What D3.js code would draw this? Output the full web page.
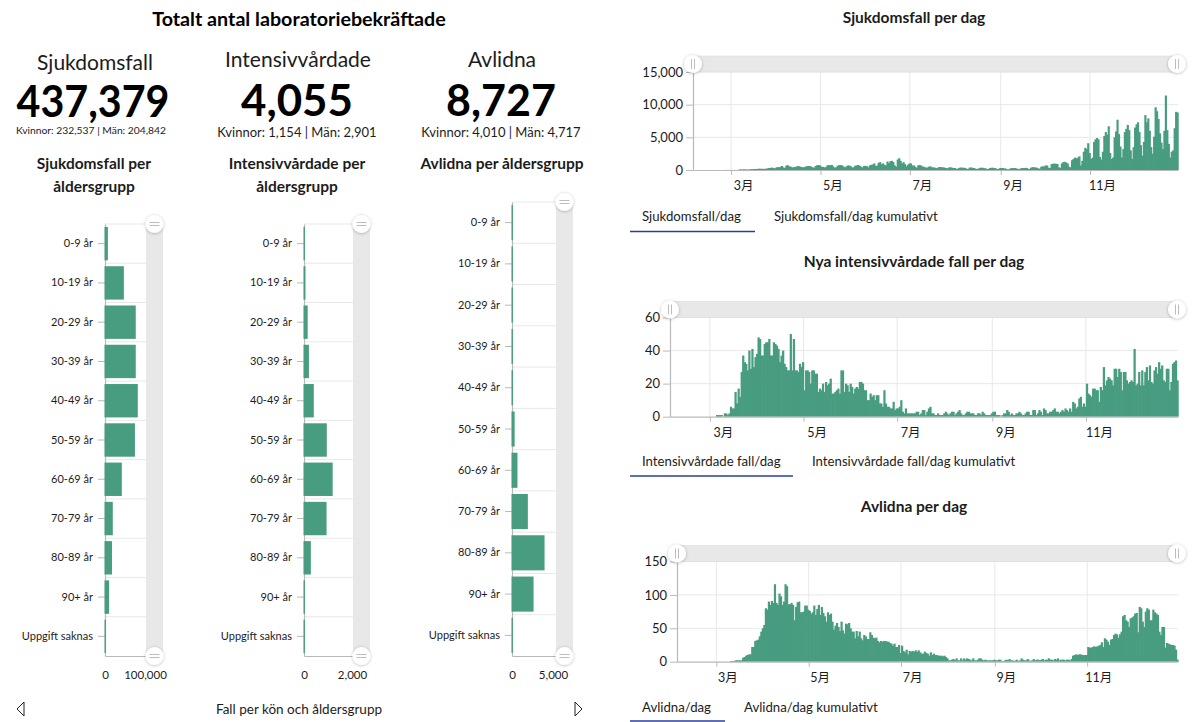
<!DOCTYPE html>
<html><head><meta charset="utf-8">
<script src="https://cdnjs.cloudflare.com/ajax/libs/d3/7.8.5/d3.min.js"></script>
<style>
html,body{margin:0;padding:0;background:#fff}
svg{display:block}
text{font-family:Lato,"Noto Sans CJK SC",sans-serif;fill:#1c1c1c}
</style></head><body><svg id="c" width="1200" height="722"></svg>
<script>
const ageGroups=["0-9 år","10-19 år","20-29 år","30-39 år","40-49 år","50-59 år","60-69 år","70-79 år","80-89 år","90+ år","Uppgift saknas"];
const casesByAge=[7000,46000,75000,75000,80000,73000,41000,19000,17000,10000,600];
const icuByAge=[30,60,150,200,400,930,1170,920,280,25,5];
const deathsByAge=[5,10,20,40,110,300,620,1800,3700,2450,10];
const monthStarts=["2020-02-04","2020-03-01","2020-04-01","2020-05-01","2020-06-01","2020-07-01","2020-08-01","2020-09-01","2020-10-01","2020-11-01","2020-12-01"];
const tickMonths=["2020-03-01","2020-05-01","2020-07-01","2020-09-01","2020-11-01"];
const tickLabels=["3月","5月","7月","9月","11月"];
const casesDaily=[
[1,0,0,0,0,0,0,0,0,0,0,0,0,0,0,0,0,0,0,0,1,2,7,7,5,10],
[4,1,16,5,20,60,100,50,110,80,70,75,85,120,130,150,140,160,190,200,170,180,170,190,240,300,320,360,330,240,350],
[450,400,480,620,400,320,680,720,560,500,400,420,480,530,600,560,450,430,410,500,580,620,610,510,400,350,620,720,760,700],
[500,480,400,440,700,760,720,780,560,360,410,640,740,760,700,540,400,560,690,680,560,380,420,640,700,760,660,520,400,600,640],
[580,400,700,800,840,1000,620,680,1100,1200,900,1000,800,700,1300,1050,1350,1400,1200,700,500,1600,1800,1400,1000,1200,900,550,800,1000],
[1000,700,700,500,350,700,760,680,540,480,400,320,500,540,500,360,400,300,280,440,460,420,400,360,300,250,380,420,350,300,300],
[200,180,330,380,350,340,320,200,150,360,380,340,300,220,150,200,320,360,330,280,250,150,170,300,350,340,300,240,150,180,300],
[320,280,250,180,120,110,260,280,300,300,240,170,130,250,290,300,320,320,190,150,350,430,420,380,350,230,200,500,560,540],
[700,680,350,300,900,960,980,950,920,400,330,1000,1200,1250,1150,1000,500,420,1500,1700,1900,1800,1900,2100,700,1400,2800,3400,3200,4100,2600],
[1700,1900,4300,4700,4900,4700,2000,1600,2800,5200,5800,5400,6700,2600,1700,1900,5000,5900,7700,5500,3600,1900,3200,5800,6300,6900,6100,3000,1700,3500],
[6500,7000,7300,5800,3800,2200,4300,8400,7300,7900,6000,3500,2500,5100,9600,9000,7800,5600,4200,3200,6000,11400,6100,4000,1900,2800,3000,6400,8900,8800]];
const icuDaily=[
[0,0,0,0,0,0,0,0,0,0,0,0,0,0,0,0,0,0,0,0,0,0,0,0,0,0],
[0,0,0,0,1,1,1,1,0,2,2,1,2,6,5,5,15,8,17,12,27,37,33,32,28,40,29,41,30,36,38],
[48,47,37,37,44,45,45,47,37,37,45,44,43,41,33,37,40,32,30,28,28,50,28,47,28,28,27,32,30,33],
[16,28,28,27,20,28,28,26,26,15,17,16,20,15,21,19,20,23,14,14,15,16,17,14,28,28,15,20,19,15,20],
[18,14,17,18,17,21,21,20,16,16,10,10,14,12,13,10,13,13,8,8,6,16,8,6,6,5,5,9,4,5],
[5,6,10,3,2,5,2,2,2,2,2,2,3,3,1,2,4,4,1,3,5,6,2,2,1,1,2,1,1,1,2],
[3,2,1,2,3,3,1,2,3,4,2,1,1,2,3,3,2,2,2,1,1,2,2,1,3,2,1,1,1,1,2],
[3,3,1,1,1,0,1,2,2,4,3,1,2,1,1,2,2,3,2,1,1,2,3,3,1,1,4,4,1,2],
[4,3,1,5,4,2,2,3,3,4,5,3,3,2,3,4,3,5,4,3,5,3,9,8,5,6,11,12,6,8,6],
[20,14,13,12,17,17,16,16,9,18,16,30,19,22,24,23,22,19,29,29,24,29,27,16,27,27,22,20,21,22],
[21,41,19,20,27,19,28,19,27,30,22,31,21,20,28,30,26,33,29,31,22,21,29,29,16,21,32,33,34,22]];
const deathsDaily=[
[0,0,0,0,0,0,0,0,0,0,0,0,0,0,0,0,0,0,0,0,0,0,0,0,0,0],
[0,0,0,0,0,0,0,0,0,1,1,1,2,2,2,2,2,6,7,9,10,11,11,22,22,31,32,33,38,45,50],
[55,80,78,90,85,91,88,116,88,85,102,98,85,90,116,113,86,86,88,85,62,82,89,90,74,74,75,84,84,78],
[76,72,74,84,70,79,85,70,82,73,68,60,74,70,72,60,48,54,58,52,46,60,47,42,57,56,58,50,45,45,35],
[46,38,45,35,32,40,38,34,34,44,40,36,35,36,31,29,31,30,31,31,30,30,28,27,24,27,22,22,25,13],
[24,16,14,18,11,16,15,16,15,17,15,17,14,12,12,15,13,12,9,14,10,12,10,10,9,9,9,8,9,7,5],
[2,2,3,4,2,5,2,2,5,2,5,3,5,4,3,2,5,2,2,3,5,5,3,2,3,2,2,2,2,2,3],
[2,2,3,3,1,1,2,3,2,4,2,2,1,2,3,1,2,5,3,2,2,4,2,1,2,4,2,3,3,2],
[3,4,2,3,3,5,3,3,2,4,3,5,2,3,3,3,2,3,3,2,4,9,10,11,10,11,11,10,10,10,10],
[22,21,21,22,23,22,23,24,25,29,22,35,33,30,25,33,34,40,42,41,36,41,45,68,70,62,60,52,65,66],
[68,72,73,44,82,80,60,52,75,80,78,62,62,78,74,72,70,45,40,52,52,21,28,27,26,25,25,24,18,3]];

const GREEN="#489c80",AXIS="#b9b9b9",GRID="#e8e8e8",TRACK="#e8e8e8";
const svg=d3.select("#c");
const defs=svg.append("defs");
const f=defs.append("filter").attr("id","sh").attr("x","-50%").attr("y","-50%").attr("width","200%").attr("height","200%");
f.append("feDropShadow").attr("dx",0).attr("dy",0.5).attr("stdDeviation",1.4).attr("flood-color","#000").attr("flood-opacity",.3);

function T(x,y,s,size,weight,anchor,len){
  const t=svg.append("text").attr("x",x).attr("y",y).text(s).attr("font-size",size).attr("font-weight",weight||400).attr("text-anchor",anchor||"middle");
  if(len) t.attr("textLength",len).attr("lengthAdjust","spacingAndGlyphs");
  return t;
}
function handle(cx,cy,vertical){
  const g=svg.append("g");
  g.append("circle").attr("cx",cx).attr("cy",cy).attr("r",9).attr("fill","#fff").attr("filter","url(#sh)");
  for(const o of [-1.5,1.5]){
    const a=vertical?{x1:cx-o,x2:cx-o,y1:cy-5,y2:cy+5}:{x1:cx-5,x2:cx+5,y1:cy+o,y2:cy+o};
    g.append("line").attr("x1",a.x1).attr("x2",a.x2).attr("y1",a.y1).attr("y2",a.y2).attr("stroke","#bdbdbd").attr("stroke-width",1);
  }
}
const parse=d3.utcParse("%Y-%m-%d");
function daily(nested){
  return d3.merge(nested.map((m,i)=>{
    const s=parse(monthStarts[i]);
    return m.map((v,k)=>({date:d3.utcDay.offset(s,k),v}));
  }));
}
function styleAxis(g){
  g.select(".domain").attr("stroke",AXIS).attr("stroke-width",1.2);
  g.selectAll(".tick line").attr("stroke",AXIS);
  g.selectAll(".tick text").attr("font-size",12.5).attr("fill","#222").style("font-family",'Lato,"Noto Sans CJK SC",sans-serif');
}
function timeChart(nested,c){
  const data=daily(nested);
  const x=d3.scaleUtc().domain([parse("2020-02-04"),parse("2020-12-31")]).range([c.x0,c.x1]);
  const y=d3.scaleLinear().domain([0,c.max]).range([c.y0,c.yTop]);
  const g=svg.append("g");
  g.append("g").selectAll("line").data(tickMonths).join("line").attr("x1",d=>x(parse(d))).attr("x2",d=>x(parse(d))).attr("y1",c.yTop).attr("y2",c.y0).attr("stroke",GRID);
  g.append("g").selectAll("line").data(c.ticks.slice(1)).join("line").attr("x1",c.x0).attr("x2",c.x1).attr("y1",d=>y(d)).attr("y2",d=>y(d)).attr("stroke",GRID);
  g.append("g").selectAll("rect").data(data).join("rect")
    .attr("x",d=>x(d.date)).attr("width",d=>x(d3.utcDay.offset(d.date,1))-x(d.date)+.7)
    .attr("y",d=>y(d.v)).attr("height",d=>c.y0-y(d.v)).attr("fill",GREEN);
  const ax=g.append("g").attr("transform",`translate(0,${c.y0})`).call(d3.axisBottom(x).tickValues(tickMonths.map(parse)).tickFormat((d,i)=>tickLabels[i]).tickSize(5).tickPadding(6).tickSizeOuter(0));
  styleAxis(ax);
  ax.selectAll(".tick text").attr("dx",c.labelDx);
  const ay=g.append("g").attr("transform",`translate(${c.x0},0)`).call(d3.axisLeft(y).tickValues(c.ticks).tickFormat(d3.format(",")).tickSize(7).tickPadding(3).tickSizeOuter(0));
  styleAxis(ay);
  ay.selectAll(".tick text").attr("font-size",13);
  g.append("rect").attr("x",c.x0).attr("y",c.yTop-16).attr("width",c.x1-c.x0).attr("height",16).attr("fill",TRACK).attr("stroke","#dcdcdc").attr("stroke-width",.6);
  handle(c.x0,c.yTop-8,true);handle(c.x1-1,c.yTop-8,true);
}
function barChart(vals,c){
  const y=d3.scaleBand().domain(ageGroups).range([c.yTop,c.y0]).paddingInner(.15).paddingOuter(.075);
  const x=d3.scaleLinear().domain([0,c.max]).range([c.x0,c.x1]);
  const g=svg.append("g");
  const step=y.step();
  g.append("g").selectAll("line").data(ageGroups).join("line").attr("x1",c.x0).attr("x2",c.x1)
    .attr("y1",(d,i)=>c.yTop+i*step).attr("y2",(d,i)=>c.yTop+i*step).attr("stroke",GRID);
  const ay=g.append("g").attr("transform",`translate(${c.x0},0)`).call(d3.axisLeft(y).tickSize(7).tickPadding(5).tickSizeOuter(0));
  styleAxis(ay);ay.selectAll(".tick text").attr("font-size",11);
  g.append("g").selectAll("rect").data(vals).join("rect")
    .attr("x",c.x0-.5).attr("y",(d,i)=>y(ageGroups[i])).attr("height",y.bandwidth()).attr("width",d=>Math.max(x(d)-c.x0+.5,1.4)).attr("fill",GREEN);
  const ax=g.append("g").attr("transform",`translate(0,${c.y0})`).call(d3.axisBottom(x).tickValues([0,c.max]).tickFormat(d3.format(",")).tickSize(0).tickPadding(15).tickSizeOuter(0));
  styleAxis(ax);ax.selectAll(".tick text").attr("font-size",11.5);
  ax.selectAll(".tick").filter(d=>d>0).select("text").attr("dx",c.maxDx||0);
  g.append("rect").attr("x",c.x1).attr("y",c.yTop).attr("width",17).attr("height",c.y0-c.yTop).attr("fill",TRACK);
  handle(c.x1+8.5,c.yTop,false);handle(c.x1+8.5,c.y0,false);
}

T(299,26,"Totalt antal laboratoriebekräftade",19.7,700).style("fill","#000");
[[95,70,"Sjukdomsfall"],[298,67,"Intensivvårdade"],[502,67,"Avlidna"]].forEach(d=>T(d[0],d[1],d[2],21,400));
[[93,117,"437,379",153],[297,116,"4,055",112],[501,116,"8,727",110]].forEach(d=>T(d[0],d[1],d[2],44,700,"middle",d[3]).style("fill","#000"));
T(91,134,"Kvinnor: 232,537 | Män: 204,842",10.3);
T(297,137,"Kvinnor: 1,154 | Män: 2,901",13);
T(501,137,"Kvinnor: 4,010 | Män: 4,717",13);
[[94,169,"Sjukdomsfall per"],[94,192,"åldersgrupp"],[297,169,"Intensivvårdade per"],[297,192,"åldersgrupp"],[502,169,"Avlidna per åldersgrupp"]].forEach(d=>T(d[0],d[1],d[2],15.5,700));
barChart(casesByAge,{x0:105,x1:146,yTop:224,y0:656,max:100000,maxDx:-1});
barChart(icuByAge,{x0:304,x1:353,yTop:224,y0:656,max:2000,maxDx:-1});
barChart(deathsByAge,{x0:512,x1:556,yTop:202,y0:656,max:5000,maxDx:-3});
T(299,714,"Fall per kön och åldersgrupp",13.5);
svg.append("path").attr("d",d3.line()([[24,702],[17,709],[24,716],[24,702]])).attr("fill","none").attr("stroke","#222");
svg.append("path").attr("d",d3.line()([[575,702],[582,709],[575,716],[575,702]])).attr("fill","none").attr("stroke","#222");

T(914,23,"Sjukdomsfall per dag",15.5,700);
T(914,267,"Nya intensivvårdade fall per dag",15.5,700);
T(914,512,"Avlidna per dag",15.5,700);
timeChart(casesDaily,{x0:693,x1:1178,y0:170,yTop:72,max:15000,ticks:[0,5000,10000,15000],labelDx:12});
timeChart(icuDaily,{x0:670,x1:1178,y0:416.7,yTop:317.5,max:60,ticks:[0,20,40,60],labelDx:13});
timeChart(deathsDaily,{x0:677,x1:1178,y0:661.7,yTop:561.5,max:150,ticks:[0,50,100,150],labelDx:11});
[[642,221,"Sjukdomsfall/dag"],[774,221,"Sjukdomsfall/dag kumulativt"],[642,466,"Intensivvårdade fall/dag"],[812,466,"Intensivvårdade fall/dag kumulativt"],[642,712,"Avlidna/dag"],[744,712,"Avlidna/dag kumulativt"]].forEach(d=>T(d[0],d[1],d[2],13.2,400,"start"));
[[630,755,231.5],[630,793,476],[630,725,721]].forEach(d=>svg.append("line").attr("x1",d[0]).attr("x2",d[1]).attr("y1",d[2]).attr("y2",d[2]).attr("stroke","#2b3e9b").attr("stroke-width",1.6));
</script></body></html>
